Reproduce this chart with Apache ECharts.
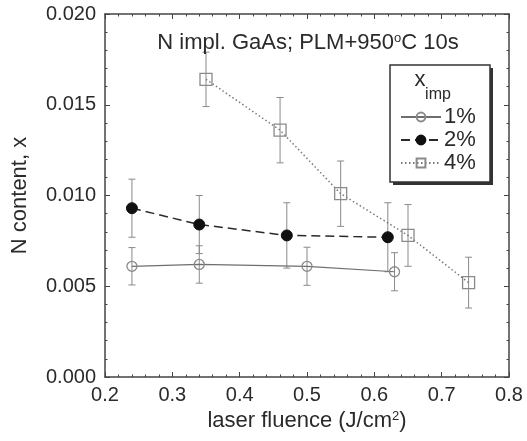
<!DOCTYPE html>
<html>
<head>
<meta charset="utf-8">
<script src="https://cdn.jsdelivr.net/npm/echarts@6/dist/echarts.min.js"></script>
<style>
  html, body { margin: 0; padding: 0; background: #fff; }
  #main { width: 527px; height: 441px; }
</style>
</head>
<body>
<div id="main"></div>
<script>
// laser fluence (J/cm2), N content x, error
const x1 = [0.24, 0.34, 0.50, 0.63];
const y1 = [0.0061, 0.0062, 0.0061, 0.0058];
const e1 = [0.00103, 0.00103, 0.00105, 0.00105];

const x2 = [0.24, 0.34, 0.47, 0.62];
const y2 = [0.0093, 0.0084, 0.0078, 0.0077];
const e2 = [0.0016, 0.0016, 0.0018, 0.0019];

const x4 = [0.35, 0.46, 0.55, 0.65, 0.74];
const y4 = [0.0164, 0.0136, 0.0101, 0.0078, 0.0052];
const e4 = [0.0015, 0.0018, 0.0018, 0.0017, 0.0014];

const xTicks = [0.2, 0.3, 0.4, 0.5, 0.6, 0.7, 0.8];
const yTicks = [0.000, 0.005, 0.010, 0.015, 0.020];

const font = '"Liberation Sans", Arial, Helvetica, sans-serif';
const axisColor = '#444';
const textColor = '#2a2a2a';

function pairs(xs, ys) {
  return xs.map((x, i) => [x, ys[i]]);
}
function errData(xs, ys, es) {
  return xs.map((x, i) => [x, ys[i] - es[i], ys[i] + es[i]]);
}

// error bars via custom series
function errSeries(xs, ys, es) {
  return {
    type: 'custom',
    silent: true,
    z: 1,
    data: errData(xs, ys, es),
    renderItem: function (params, api) {
      const lo = api.coord([api.value(0), api.value(1)]);
      const hi = api.coord([api.value(0), api.value(2)]);
      const w = 3.5;
      const st = { stroke: '#8a8a8a', lineWidth: 1 };
      return {
        type: 'group',
        children: [
          { type: 'line', shape: { x1: lo[0], y1: lo[1], x2: hi[0], y2: hi[1] }, style: st },
          { type: 'line', shape: { x1: lo[0] - w, y1: lo[1], x2: lo[0] + w, y2: lo[1] }, style: st },
          { type: 'line', shape: { x1: hi[0] - w, y1: hi[1], x2: hi[0] + w, y2: hi[1] }, style: st }
        ]
      };
    }
  };
}

const xAxisBase = {
  type: 'value',
  min: xTicks[0],
  max: xTicks[xTicks.length - 1],
  interval: 0.1,
  axisLine: { show: true, onZero: false, lineStyle: { color: axisColor, width: 1.5 } },
  axisTick: { show: true, inside: true, length: 5, lineStyle: { color: axisColor, width: 1 } },
  minorTick: { show: true, splitNumber: 5, length: 2.5, lineStyle: { color: axisColor, width: 1 } },
  splitLine: { show: false }
};
const yAxisBase = {
  type: 'value',
  min: yTicks[0],
  max: yTicks[yTicks.length - 1],
  interval: 0.005,
  axisLine: { show: true, onZero: false, lineStyle: { color: axisColor, width: 1.5 } },
  axisTick: { show: true, inside: true, length: 5, lineStyle: { color: axisColor, width: 1 } },
  minorTick: { show: true, splitNumber: 5, length: 2.5, lineStyle: { color: axisColor, width: 1 } },
  splitLine: { show: false }
};

const chart = echarts.init(document.getElementById('main'));
chart.setOption({
  backgroundColor: '#fff',
  animation: false,
  textStyle: { fontFamily: font },
  grid: { left: 105, right: 18, top: 14, bottom: 64 },
  xAxis: [
    Object.assign({}, xAxisBase, {
      position: 'bottom',
      axisLabel: { fontSize: 20, color: textColor, margin: 8, fontFamily: font,
        formatter: v => v.toFixed(1) },
      name: '{a|laser fluence (J/cm}{s|2}{a|)}',
      nameLocation: 'middle',
      nameGap: 27,
      nameTextStyle: {
        rich: {
          a: { fontSize: 22, color: textColor, fontFamily: font },
          s: { fontSize: 13, color: textColor, fontFamily: font, verticalAlign: 'top' }
        }
      }
    }),
    Object.assign({}, xAxisBase, { position: 'top', axisLabel: { show: false } })
  ],
  yAxis: [
    Object.assign({}, yAxisBase, {
      position: 'left',
      axisLabel: { fontSize: 20, color: textColor, margin: 9, fontFamily: font,
        formatter: v => v.toFixed(3) },
      name: 'N content, x',
      nameLocation: 'middle',
      nameGap: 74,
      nameTextStyle: { fontSize: 22, color: textColor, fontFamily: font }
    }),
    Object.assign({}, yAxisBase, { position: 'right', axisLabel: { show: false } })
  ],
  legend: {
    orient: 'vertical',
    z: 100,
    left: 400,
    top: 106,
    itemWidth: 40,
    itemHeight: 11,
    itemGap: 1,
    padding: 0,
    textStyle: { fontSize: 22, color: textColor, fontFamily: font, lineHeight: 22, padding: [0, 0, 0, -2] },
    data: ['1%', '2%', '4%']
  },
  graphic: [
    {
      type: 'rect', z: 90,
      shape: { x: 393, y: 68, width: 100, height: 117 },
      style: { fill: '#333', stroke: null }
    },
    {
      type: 'rect', z: 91,
      shape: { x: 390, y: 65, width: 100, height: 117 },
      style: { fill: '#fff', stroke: '#333', lineWidth: 1.5 }
    },
    {
      type: 'text', z: 92, x: 420, y: 80,
      style: { text: 'x', font: '22px ' + font, fill: textColor, align: 'center', verticalAlign: 'middle' }
    },
    {
      type: 'text', z: 92, x: 438, y: 95,
      style: { text: 'imp', font: '16px ' + font, fill: textColor, align: 'center', verticalAlign: 'middle' }
    },
    {
      type: 'text', z: 92, x: 308, y: 43,
      style: {
        text: '{a|N impl. GaAs; PLM+950}{s|o}{a|C 10s}',
        align: 'center', verticalAlign: 'middle',
        rich: {
          a: { fontSize: 22, fill: textColor, fontFamily: font },
          s: { fontSize: 13, fill: textColor, fontFamily: font, verticalAlign: 'top' }
        }
      }
    }
  ],
  series: [
    errSeries(x1, y1, e1),
    errSeries(x2, y2, e2),
    errSeries(x4, y4, e4),
    {
      name: '1%', type: 'line', z: 3,
      data: pairs(x1, y1),
      symbol: 'circle', symbolSize: 10,
      lineStyle: { color: '#6e6e6e', width: 1.2, type: 'solid' },
      itemStyle: { color: 'rgba(255,255,255,0)', borderColor: '#8a8a8a', borderWidth: 1.3 }
    },
    {
      name: '2%', type: 'line', z: 3,
      data: pairs(x2, y2),
      symbol: 'circle', symbolSize: 11,
      lineStyle: { color: '#2a2a2a', width: 1.5, type: [9, 5] },
      itemStyle: { color: '#111', borderColor: '#111', borderWidth: 1 }
    },
    {
      name: '4%', type: 'line', z: 3,
      data: pairs(x4, y4),
      symbol: 'rect', symbolSize: 12,
      lineStyle: { color: '#7a7a7a', width: 1.5, type: [1.5, 2.5] },
      itemStyle: { color: 'rgba(255,255,255,0)', borderColor: '#8a8a8a', borderWidth: 1.3 }
    }
  ]
});
</script>
</body>
</html>
